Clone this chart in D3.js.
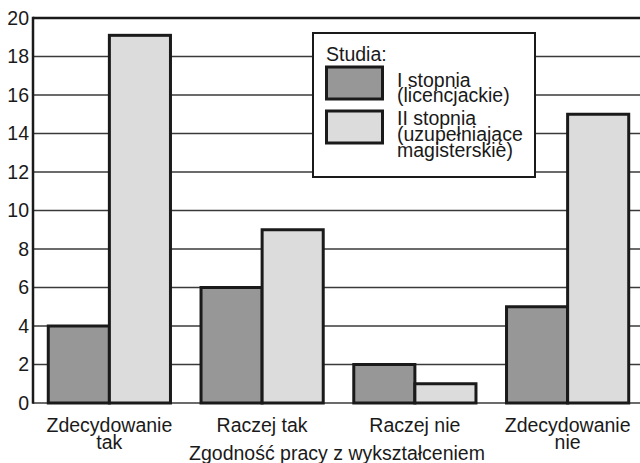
<!DOCTYPE html>
<html>
<head>
<meta charset="utf-8">
<script src="https://cdn.jsdelivr.net/npm/d3@7"></script>
<style>
  html, body { margin: 0; padding: 0; background: #fff; }
  svg { display: block; font-family: "Liberation Sans", Arial, sans-serif; }
</style>
</head>
<body>
<svg id="chart" width="640" height="463"></svg>
<script>
// Odpowiedzi: zgodność pracy z wykształceniem wg stopnia studiów
const categories = [["Zdecydowanie", "tak"], ["Raczej tak"], ["Raczej nie"], ["Zdecydowanie", "nie"]];
const series = ["I stopnia", "II stopnia"];
const firstDegree = [4, 6, 2, 5];
const secondDegree = [19.1, 9, 1, 15];
const yTicks = [0, 2, 4, 6, 8, 10, 12, 14, 16, 18, 20];
const legendTitle = "Studia:";
const legendLabels = [["I stopnia", "(licencjackie)"], ["II stopnia", "(uzupełniające", "magisterskie)"]];
const axisTitle = "Zgodność pracy z wykształceniem";
const colors = ["#979797", "#dcdcdc"];

const fontSize = 19.5;
const ink = "#1a1a1a";
const svg = d3.select("#chart");
const plotLeft = 33, plotRight = 644, plotTop = 18, plotBottom = 403;

const x = d3.scaleBand().domain(d3.range(categories.length)).range([plotLeft, plotRight])
  .paddingInner(0.2).paddingOuter(0.1);
const xs = d3.scaleBand().domain(d3.range(series.length)).range([0, x.bandwidth()]);
const y = d3.scaleLinear().domain([0, 20]).range([plotBottom, plotTop]);

// poziome linie siatki
svg.append("g").selectAll("line").data(yTicks).join("line")
  .attr("x1", plotLeft).attr("x2", 640)
  .attr("y1", d => y(d)).attr("y2", d => y(d))
  .attr("stroke", "#3a3a3a").attr("stroke-width", 1.3);

// górna ramka i oś pionowa
svg.append("line").attr("x1", plotLeft).attr("x2", 640).attr("y1", plotTop).attr("y2", plotTop)
  .attr("stroke", ink).attr("stroke-width", 2.5);
svg.append("line").attr("x1", plotLeft).attr("x2", plotLeft).attr("y1", plotTop - 1.2).attr("y2", plotBottom + 0.8)
  .attr("stroke", ink).attr("stroke-width", 2.5);

// etykiety osi Y
const yAxis = d3.axisLeft(y).tickValues(yTicks).tickSize(0).tickPadding(3);
const gy = svg.append("g").attr("transform", `translate(${plotLeft - 1},0)`).call(yAxis);
gy.select(".domain").remove();
gy.selectAll("text").attr("font-size", fontSize).attr("fill", ink)
  .attr("font-family", "Liberation Sans, Arial, sans-serif");

// słupki
const values = [firstDegree, secondDegree];
const groups = svg.append("g").selectAll("g").data(categories).join("g")
  .attr("transform", (d, i) => `translate(${x(i)},0)`);
groups.selectAll("rect").data((d, i) => values.map((v, s) => ({ s, v: v[i] }))).join("rect")
  .attr("x", d => xs(d.s))
  .attr("y", d => y(d.v))
  .attr("width", xs.bandwidth())
  .attr("height", d => plotBottom - y(d.v))
  .attr("fill", d => colors[d.s])
  .attr("stroke", ink).attr("stroke-width", 3);

// etykiety kategorii
groups.append("text")
  .attr("x", x.bandwidth() / 2)
  .attr("text-anchor", "middle").attr("font-size", fontSize).attr("fill", ink)
  .selectAll("tspan").data(d => d).join("tspan")
  .attr("x", x.bandwidth() / 2)
  .attr("y", (d, i) => 432 + i * 16.5)
  .text(d => d);

// tytuł osi X
svg.append("text").attr("x", 337).attr("y", 460).attr("text-anchor", "middle")
  .attr("font-size", fontSize).attr("fill", ink).text(axisTitle);

// legenda
const lg = svg.append("g").attr("transform", "translate(313,33)");
lg.append("rect").attr("width", 222).attr("height", 144)
  .attr("fill", "#fff").attr("stroke", ink).attr("stroke-width", 2);
lg.append("text").attr("x", 13).attr("y", 27.5).attr("font-size", fontSize).attr("fill", ink).text(legendTitle);
const swatchY = [34, 78];
lg.selectAll("rect.sw").data(series).join("rect").attr("class", "sw")
  .attr("x", 13.5).attr("y", (d, i) => swatchY[i])
  .attr("width", 56).attr("height", 32)
  .attr("fill", (d, i) => colors[i]).attr("stroke", ink).attr("stroke-width", 3);
const labelY = [53.5, 92];
lg.selectAll("text.lab").data(legendLabels).join("text").attr("class", "lab")
  .attr("font-size", fontSize).attr("fill", ink)
  .selectAll("tspan").data((d, i) => d.map((t, j) => ({ t, yy: labelY[i] + j * 15.8 }))).join("tspan")
  .attr("x", 84).attr("y", d => d.yy).text(d => d.t);
</script>
</body>
</html>
